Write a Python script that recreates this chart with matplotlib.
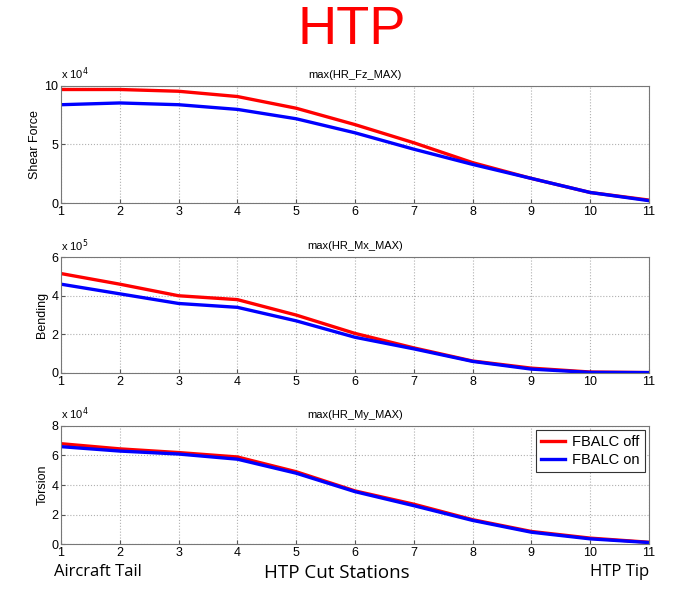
import matplotlib
matplotlib.use("Agg")
import matplotlib.pyplot as plt

stations = [1, 2, 3, 4, 5, 6, 7, 8, 9, 10, 11]

shear_off = [9.7, 9.7, 9.55, 9.1, 8.1, 6.7, 5.15, 3.45, 2.1, 0.9, 0.25]
shear_on = [8.4, 8.55, 8.4, 8.0, 7.2, 6.0, 4.6, 3.3, 2.1, 0.9, 0.2]

bend_off = [5.15, 4.6, 4.0, 3.8, 3.0, 2.05, 1.3, 0.62, 0.25, 0.05, 0.02]
bend_on = [4.6, 4.1, 3.6, 3.4, 2.7, 1.85, 1.25, 0.6, 0.2, 0.03, 0.02]

tors_off = [6.8, 6.45, 6.2, 5.9, 4.9, 3.6, 2.7, 1.65, 0.85, 0.4, 0.12]
tors_on = [6.6, 6.3, 6.1, 5.75, 4.8, 3.55, 2.6, 1.6, 0.8, 0.35, 0.1]

panels = [
    ("max(HR_Fz_MAX)", "Shear Force", shear_off, shear_on, [0, 5, 10], (0, 10), "4"),
    ("max(HR_Mx_MAX)", "Bending", bend_off, bend_on, [0, 2, 4, 6], (0, 6), "5"),
    ("max(HR_My_MAX)", "Torsion", tors_off, tors_on, [0, 2, 4, 6, 8], (0, 8), "4"),
]

plt.rcParams['font.family'] = ['Liberation Sans', 'DejaVu Sans']

fig = plt.figure(figsize=(6.73, 5.91), dpi=100)
fig.text(0.522, 0.950, "HTP", color="#ff0000", fontsize=39, ha="center", va="center")

rects = [
    [0.0906, 0.6565, 0.8737, 0.198],
    [0.0906, 0.3689, 0.8737, 0.196],
    [0.0906, 0.0795, 0.8737, 0.1997],
]

for rect, (title, ylabel, off, on, yt, ylim, exp) in zip(rects, panels):
    ax = fig.add_axes(rect)
    ax.plot(stations, off, color="#ff0000", lw=2.4, label="FBALC off")
    ax.plot(stations, on, color="#0000ff", lw=2.4, label="FBALC on")
    ax.set_xlim(1, 11)
    ax.set_ylim(*ylim)
    ax.set_xticks(stations)
    ax.set_yticks(yt)
    ax.grid(True, color="#b0b0b0", linestyle=":", linewidth=0.8)
    ax.tick_params(labelsize=9, direction="in", length=3, pad=2, color="#555555")
    for s in ax.spines.values():
        s.set_color("#777777")
        s.set_linewidth(0.8)
    ax.set_title(title, fontsize=8, pad=6)
    ax.set_ylabel(ylabel, fontsize=9, labelpad=2)
    ax.text(0.0, 1.03, "x 10$^{%s}$" % exp, transform=ax.transAxes, fontsize=8, ha="left", va="bottom")
    last = ax

leg = last.legend(loc="upper right", fontsize=10.5, frameon=True, fancybox=False,
                  edgecolor="#333333", handlelength=1.6, borderpad=0.35, labelspacing=0.25,
                  handletextpad=0.5, framealpha=1, borderaxespad=0.3)
leg.get_frame().set_linewidth(0.8)

fig.text(0.080, 0.032, "Aircraft Tail", fontsize=12, family=["Open Sans", "DejaVu Sans"], ha="left", va="center")
fig.text(0.50, 0.030, "HTP Cut Stations", fontsize=13.5, family=["Open Sans", "DejaVu Sans"], ha="center", va="center")
fig.text(0.965, 0.032, "HTP Tip", fontsize=12, family=["Open Sans", "DejaVu Sans"], ha="right", va="center")

fig.savefig("out.png", dpi=100)
